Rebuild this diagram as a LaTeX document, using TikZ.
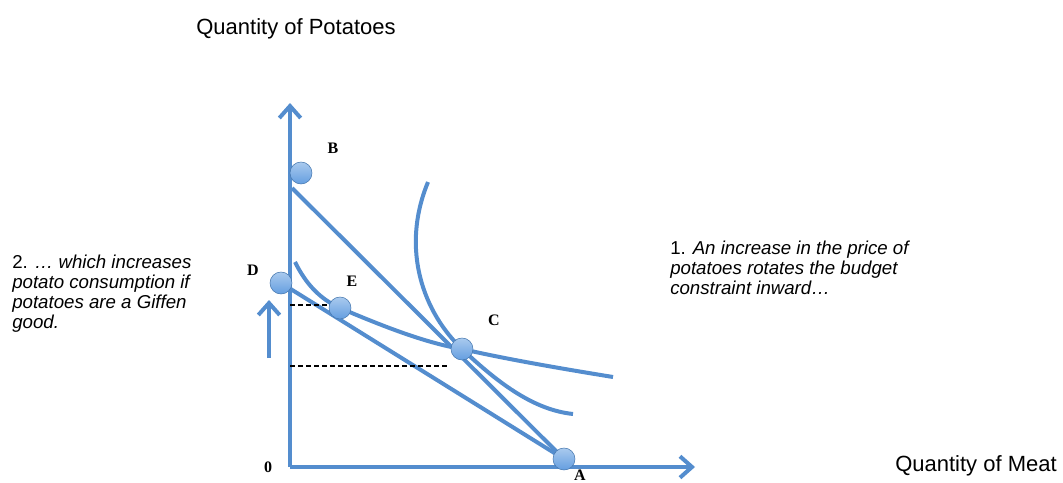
\documentclass[tikz,border=0pt]{standalone}
\usepackage{fontspec}
\setmainfont{Liberation Sans}
\newfontfamily\lblfont{Liberation Serif}
\usetikzlibrary{arrows.meta,backgrounds}
\definecolor{curveblue}{RGB}{84,141,206}
\definecolor{dotblue}{RGB}{100,158,224}
\tikzset{
  axis/.style   ={line width=3pt,curveblue,-{Straight Barb[length=9pt,width=16pt]}},
  budget/.style ={line width=3pt,curveblue},
  indiff/.style ={line width=3pt,curveblue},
  level/.style  ={line width=1pt,black,dash pattern=on 4pt off 2pt},
  dot/.style    ={circle,minimum size=16.5pt,inner sep=0pt,draw=curveblue!85!black,line width=0.4pt,
                  top color=dotblue!55!white,bottom color=dotblue},
  ptlabel/.style={font=\lblfont\bfseries\fontsize{12}{12}\selectfont},
  note/.style   ={align=left,anchor=north west,inner sep=0pt,font=\fontsize{14}{15}\selectfont},
  axlabel/.style={font=\fontsize{16.5}{18}\selectfont},
}
\begin{document}
\begin{tikzpicture}[x=0.75pt,y=-0.75pt]
\useasboundingbox (0,0) rectangle (1063,482);
% points on the budget lines
\node[dot] (B) at (301,173) {};
\node[dot] (D) at (281,283) {};
\node[dot] (E) at (340,308) {};
\node[dot] (C) at (462,349) {};
\node[dot] (A) at (564,459) {};
% point labels
\node[ptlabel] (Blbl) at (333,148) {B};
\node[ptlabel] (Dlbl) at (253,270) {D};
\node[ptlabel] (Elbl) at (352,281) {E};
\node[ptlabel] (Clbl) at (494,320) {C};
\node[ptlabel] (Albl) at (580,475) {A};
\node[ptlabel] (Olbl) at (268,467) {0};
% axis titles
\node[axlabel] (ytitle) at (296,29) {Quantity of Potatoes};
\node[axlabel,anchor=west,inner sep=0pt] (xtitle) at (895,466) {Quantity of Meat};
% notes
\node[note] (note2) at (12,255) {2. \textit{… which increases}\\\textit{potato consumption if}\\\textit{potatoes are a Giffen}\\\textit{good.}};
\node[note] (note1) at (670,241) {1. \textit{An increase in the price of}\\\textit{potatoes rotates the budget}\\\textit{constraint inward…}};
% lines and curves behind the dots
\begin{scope}[on background layer]
\coordinate (O) at (290,467);
\coordinate (ytip) at (290,103);
\coordinate (xtip) at (695,467);
\draw[axis] (O) -- (ytip);
\draw[axis] (O) -- (xtip);
\coordinate (Bstart) at (292,188);
\draw[budget] (Bstart) -- (A.center);
\draw[budget] (D.center) -- (A.center);
% indifference curves
\coordinate (I1top) at (428,182);
\coordinate (I1end) at (573,414);
\draw[indiff] (I1top) .. controls (400,250) and (424,313) .. (C.center)
                      .. controls (500,385) and (535,410) .. (I1end);
\coordinate (I2top) at (295,262);
\coordinate (I2end) at (613,377);
\draw[indiff] (I2top) .. controls (305,282) and (318,298) .. (E.center)
                      .. controls (380,325) and (425,343) .. (C.center)
                      .. controls (510,360) and (570,370) .. (I2end);
% quantity levels
\coordinate (yE) at (290,305);
\coordinate (yC) at (290,366);
\coordinate (xC) at (447,366);
\draw[level] (yE) -- (yE -| E.west);
\draw[level] (yC) -- (xC);
% rise in potato quantity
\coordinate (up0) at (269,358);
\coordinate (up1) at (269,300);
\draw[axis] (up0) -- (up1);
\end{scope}
\end{tikzpicture}
\end{document}
